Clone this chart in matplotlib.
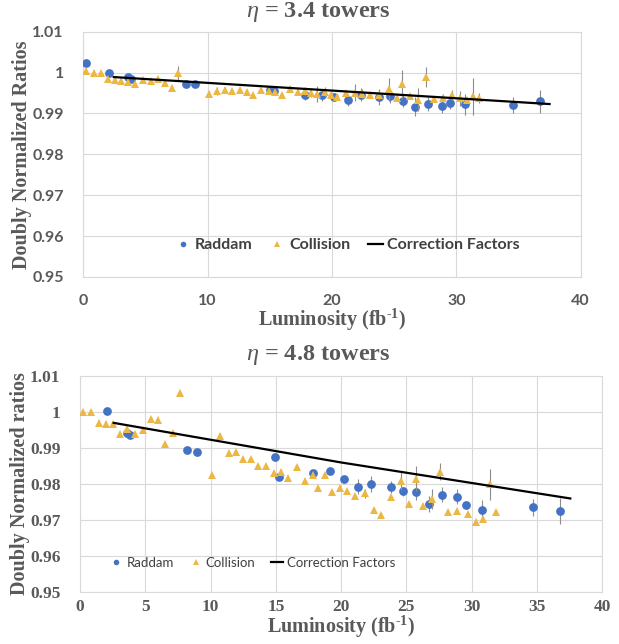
import matplotlib
matplotlib.use('Agg')
import matplotlib.pyplot as plt
from matplotlib.lines import Line2D

plt.rcParams['mathtext.fontset'] = 'custom'
plt.rcParams['mathtext.rm'] = 'Liberation Serif:bold'
plt.rcParams['mathtext.it'] = 'Liberation Serif:italic'
plt.rcParams['mathtext.bf'] = 'Liberation Serif:bold'

# eta = 3.4 towers
r34_lum = [0.24, 2.04, 3.6, 3.8, 8.25, 9.0, 15.0, 15.3, 17.85, 19.2, 20.17, 21.3,
           22.3, 23.8, 24.7, 25.7, 26.7, 27.7, 28.86, 29.5, 30.73, 34.6, 36.74]
r34_val = [1.0024, 1.0000, 0.9989, 0.9985, 0.9972, 0.9973, 0.9958, 0.9955, 0.9945,
           0.9945, 0.9941, 0.9933, 0.9946, 0.9940, 0.9943, 0.9930, 0.9917, 0.9924,
           0.9919, 0.9925, 0.9922, 0.9920, 0.9930]
r34_err = [0.0008, 0.0004, 0.0008, 0.0006, 0.0008, 0.0008, 0.0010, 0.0008, 0.0013,
           0.0014, 0.0010, 0.0014, 0.0016, 0.0020, 0.0018, 0.0015, 0.0024, 0.0017,
           0.0018, 0.0015, 0.0025, 0.0020, 0.0028]

c34_lum = [0.24, 0.83, 1.42, 1.99, 2.53, 3.06, 3.6, 4.19, 4.84, 5.43, 6.02, 6.56,
           7.15, 7.63, 10.13, 10.78, 11.4, 11.99, 12.58, 13.15, 13.68, 14.27, 14.9,
           15.43, 16.0, 16.6, 17.26, 17.85, 18.28, 18.82, 19.41, 19.92, 20.43, 21.1,
           21.83, 22.45, 23.07, 23.8, 24.6, 25.2, 25.67, 26.28, 26.95, 27.57, 28.2,
           28.9, 29.66, 30.3, 30.84, 31.38, 31.8]
c34_val = [1.0005, 1.0000, 0.9998, 0.9984, 0.9981, 0.9979, 0.9977, 0.9973, 0.9981,
           0.9980, 0.9984, 0.9974, 0.9963, 0.9998, 0.9948, 0.9955, 0.9958, 0.9955,
           0.9958, 0.9953, 0.9946, 0.9958, 0.9955, 0.9953, 0.9945, 0.9961, 0.9953,
           0.9955, 0.9951, 0.9948, 0.9953, 0.9946, 0.9940, 0.9949, 0.9951, 0.9947,
           0.9944, 0.9946, 0.9959, 0.9938, 0.9971, 0.9942, 0.9934, 0.9989, 0.9935,
           0.9939, 0.9946, 0.9937, 0.9933, 0.9942, 0.9937]
c34_err = [0.0005, 0.0006, 0.0007, 0.0005, 0.0006, 0.0006, 0.0006, 0.0005, 0.0005,
           0.0005, 0.0005, 0.0006, 0.0006, 0.0018, 0.0006, 0.0010, 0.0006, 0.0006,
           0.0006, 0.0005, 0.0005, 0.0005, 0.0007, 0.0007, 0.0006, 0.0005, 0.0005,
           0.0010, 0.0010, 0.0020, 0.0012, 0.0006, 0.0008, 0.0007, 0.0020, 0.0012,
           0.0006, 0.0012, 0.0028, 0.0006, 0.0036, 0.0006, 0.0028, 0.0024, 0.0007,
           0.0008, 0.0012, 0.0018, 0.0008, 0.0045, 0.0012]

cf34_lum = [2.45, 37.5]
cf34_val = [0.9989, 0.9923]

# eta = 4.8 towers
r48_lum = [2.04, 3.6, 3.8, 8.22, 8.99, 14.92, 15.28, 17.85, 19.13, 20.2, 21.33,
           22.27, 23.8, 24.73, 25.7, 26.74, 27.74, 28.84, 29.55, 30.78, 34.66, 36.75]
r48_val = [1.0002, 0.9940, 0.9935, 0.9894, 0.9888, 0.9874, 0.9818, 0.9830, 0.9835,
           0.9812, 0.9792, 0.9799, 0.9790, 0.9779, 0.9776, 0.9743, 0.9770, 0.9764,
           0.9740, 0.9728, 0.9734, 0.9724]
r48_err = [0.0004, 0.0006, 0.0006, 0.0006, 0.0008, 0.0008, 0.0008, 0.0008, 0.0008,
           0.0008, 0.0020, 0.0023, 0.0017, 0.0012, 0.0020, 0.0022, 0.0021, 0.0020,
           0.0010, 0.0028, 0.0023, 0.0035]

c48_lum = [0.26, 0.82, 1.43, 1.99, 2.53, 3.09, 3.63, 4.19, 4.85, 5.41, 5.98, 6.54,
           7.1, 7.69, 10.11, 10.75, 11.39, 11.98, 12.52, 13.1, 13.66, 14.23, 14.84,
           15.38, 15.94, 16.6, 17.24, 17.83, 18.24, 18.77, 19.31, 19.92, 20.43, 21.07,
           21.84, 22.48, 23.07, 23.8, 24.6, 25.23, 25.72, 26.3, 26.97, 27.56, 28.17,
           28.89, 29.7, 30.3, 30.88, 31.37, 31.83]
c48_val = [1.0000, 1.0000, 0.9970, 0.9967, 0.9965, 0.9937, 0.9952, 0.9939, 0.9948,
           0.9981, 0.9976, 0.9911, 0.9942, 1.0052, 0.9823, 0.9933, 0.9885, 0.9887,
           0.9870, 0.9870, 0.9850, 0.9850, 0.9830, 0.9833, 0.9816, 0.9847, 0.9808,
           0.9823, 0.9789, 0.9823, 0.9776, 0.9789, 0.9779, 0.9765, 0.9773, 0.9728,
           0.9713, 0.9762, 0.9808, 0.9743, 0.9814, 0.9737, 0.9758, 0.9833, 0.9722,
           0.9723, 0.9716, 0.9694, 0.9703, 0.9799, 0.9722]
c48_err = [0.0004, 0.0004, 0.0006, 0.0006, 0.0005, 0.0005, 0.0005, 0.0005, 0.0004,
           0.0004, 0.0004, 0.0005, 0.0005, 0.0008, 0.0006, 0.0008, 0.0004, 0.0004,
           0.0004, 0.0005, 0.0004, 0.0004, 0.0005, 0.0005, 0.0004, 0.0004, 0.0004,
           0.0004, 0.0004, 0.0008, 0.0005, 0.0005, 0.0004, 0.0005, 0.0012, 0.0005,
           0.0004, 0.0008, 0.0025, 0.0005, 0.0034, 0.0005, 0.0027, 0.0024, 0.0005,
           0.0005, 0.0005, 0.0007, 0.0006, 0.0043, 0.0005]

cf48_lum = [2.58, 20.0, 37.55]
cf48_val = [0.9969, 0.9859, 0.9759]

BLUE = '#4472C4'
GOLD = '#EDB744'
GRID = '#d9d9d9'
TXT = '#595959'
ERR = '#8c8c8c'

fig = plt.figure(figsize=(6.19, 6.44), dpi=100)
ax1 = fig.add_axes([0.1346, 0.5699, 0.8034, 0.3809])
ax2 = fig.add_axes([0.1292, 0.0812, 0.8438, 0.3354])


def draw(ax, r_lum, r_val, r_err, c_lum, c_val, c_err, cf_lum, cf_val, xstep):
    ax.errorbar(r_lum, r_val, yerr=r_err, fmt='o', color=BLUE, ms=6.3, mew=0,
                ecolor=ERR, elinewidth=0.8, capsize=1.8, capthick=0.8, zorder=3)
    ax.errorbar(c_lum, c_val, yerr=c_err, fmt='^', color=GOLD, ms=5.5, mew=0,
                ecolor=ERR, elinewidth=0.8, capsize=1.8, capthick=0.8, zorder=4)
    ax.plot(cf_lum, cf_val, color='black', lw=1.6, zorder=5)
    ax.set_xlim(0, 40)
    ax.set_ylim(0.95, 1.01)
    ax.set_xticks(range(0, 41, xstep))
    ax.set_yticks([0.95, 0.96, 0.97, 0.98, 0.99, 1.0, 1.01])
    ax.grid(True, color=GRID, lw=0.8)
    ax.set_axisbelow(True)
    for s in ax.spines.values():
        s.set_color(GRID)
        s.set_linewidth(0.8)
    ax.tick_params(length=0)


draw(ax1, r34_lum, r34_val, r34_err, c34_lum, c34_val, c34_err, cf34_lum, cf34_val, 10)
draw(ax2, r48_lum, r48_val, r48_err, c48_lum, c48_val, c48_err, cf48_lum, cf48_val, 5)

ax1.set_yticklabels(['0.95', '0.96', '0.97', '0.98', '0.99', '1', '1.01'])
ax2.set_yticklabels(['0.95', '0.96', '0.97', '0.98', '0.99', '1', '1.01'])

ax1.tick_params(axis='y', pad=14)
ax1.tick_params(axis='x', pad=12)
for lab in ax1.get_xticklabels() + ax1.get_yticklabels():
    lab.set_fontfamily('Lato')
    lab.set_fontweight('bold')
    lab.set_fontsize(11.5)
    lab.set_color(TXT)

ax2.tick_params(axis='y', pad=14)
ax2.tick_params(axis='x', pad=5)
for lab in ax2.get_xticklabels() + ax2.get_yticklabels():
    lab.set_fontfamily('Liberation Serif')
    lab.set_fontweight('bold')
    lab.set_fontsize(12.5)
    lab.set_color(TXT)

serif = dict(family='Liberation Serif', weight='bold', color=TXT)
fig.text(0.514, 0.981, r'$\eta$ = 3.4 towers', fontsize=17.5, ha='center', va='center', **serif)
fig.text(0.514, 0.449, r'$\eta$ = 4.8 towers', fontsize=17.5, ha='center', va='center', **serif)
fig.text(0.036, 0.76, 'Doubly Normalized Ratios', fontsize=14.5, rotation=90,
         ha='center', va='center', **serif)
fig.text(0.032, 0.249, 'Doubly Normalized ratios', fontsize=14.5, rotation=90,
         ha='center', va='center', **serif)
xlab = r'Luminosity (fb$^{\text{-1}}$)'
fig.text(0.537, 0.503, xlab, fontsize=14.5, ha='center', va='center', **serif)
fig.text(0.551, 0.006, xlab, fontsize=14.5, ha='center', va='bottom', **serif)

handles = [Line2D([], [], ls='', marker='o', color=BLUE, ms=4, mew=0),
           Line2D([], [], ls='', marker='^', color=GOLD, ms=4, mew=0),
           Line2D([], [], color='black', lw=1.6)]
names = ['Raddam', 'Collision', 'Correction Factors']
leg1 = ax1.legend(handles, names, loc='center', bbox_to_anchor=(0.532, 0.13), ncol=3,
                  frameon=False, handlelength=0.9, handletextpad=0.3, columnspacing=1.1,
                  prop={'family': 'Lato', 'weight': 'bold', 'size': 11.5})
for t in leg1.get_texts():
    t.set_color('#404040')

leg2 = ax2.legend(handles, names, loc='center', bbox_to_anchor=(0.331, 0.133), ncol=3,
                  frameon=False, handlelength=0.9, handletextpad=0.3, columnspacing=1.2,
                  prop={'family': 'Lato', 'size': 9.5})
for t in leg2.get_texts():
    t.set_color('#404040')

fig.savefig('out.png', dpi=100)
